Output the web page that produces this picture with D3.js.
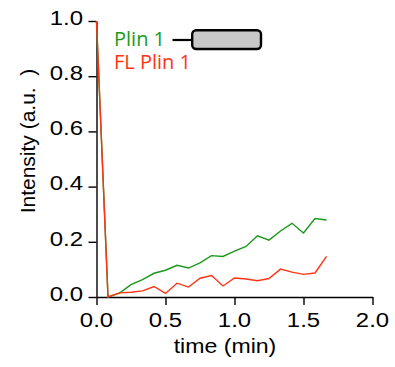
<!DOCTYPE html>
<html><head><meta charset="utf-8">
<script src="https://cdn.jsdelivr.net/npm/d3@7"></script>
<style>body{margin:0;background:#fff}svg{display:block}</style>
</head><body>
<svg id="c" width="395" height="367"></svg>
<script>
const times = [0, 1/12, 2/12, 3/12, 4/12, 5/12, 6/12, 7/12, 8/12, 9/12, 10/12, 11/12, 12/12, 13/12, 14/12, 15/12, 16/12, 17/12, 18/12, 19/12, 20/12];
const plin1 = [1.0, 0.0, 0.014, 0.045, 0.063, 0.086, 0.097, 0.115, 0.105, 0.124, 0.150, 0.147, 0.166, 0.183, 0.222, 0.206, 0.239, 0.267, 0.232, 0.284, 0.279];
const flPlin1 = [1.0, 0.0, 0.015, 0.017, 0.022, 0.038, 0.013, 0.050, 0.036, 0.068, 0.078, 0.040, 0.069, 0.065, 0.059, 0.067, 0.101, 0.090, 0.082, 0.087, 0.147];
const xTicks = [0, 0.5, 1.0, 1.5, 2.0];
const yTicks = [0, 0.2, 0.4, 0.6, 0.8, 1.0];
const seriesNames = ["Plin 1", "FL Plin 1"];
const colors = ["#1a9a1a", "#ff3415"];

const svg = d3.select("#c");
const x = d3.scaleLinear().domain([0, 2]).range([96.5, 372.5]);
const y = d3.scaleLinear().domain([0, 1]).range([297, 21]);
const SX = 1.14;
const font = "'Liberation Sans', Arial, Helvetica, sans-serif";

// axes
const gx = svg.append("g").attr("transform", "translate(0,297)")
  .call(d3.axisBottom(x).tickValues(xTicks).tickFormat(d3.format(".1f")).tickSize(8).tickSizeOuter(0));
const gy = svg.append("g").attr("transform", "translate(96.5,0)")
  .call(d3.axisLeft(y).tickValues(yTicks).tickFormat(d3.format(".1f")).tickSize(8).tickSizeOuter(0));
[gx, gy].forEach(g => {
  g.selectAll("path.domain").attr("stroke", "#000").attr("stroke-width", 1.4);
  g.selectAll(".tick line").attr("stroke", "#000").attr("stroke-width", 1.4);
  g.selectAll(".tick text").attr("fill", "#000").style("font-family", font).style("font-size", "21px");
});
gx.selectAll(".tick text").attr("y", 0).attr("dy", 0)
  .attr("transform", `translate(-0.5,29.5) scale(${SX},1)`).attr("x", 0);
gy.selectAll(".tick text").attr("x", 0).attr("y", 0).attr("dy", 0)
  .attr("transform", `translate(-13.5,3.2) scale(${SX},1)`);

// lines
const line = d3.line().x((d, i) => x(times[i])).y(d => y(d));
[plin1, flPlin1].forEach((s, k) => {
  svg.append("path").datum(s).attr("d", line)
    .attr("fill", "none").attr("stroke", colors[k]).attr("stroke-width", 1.4)
    .attr("stroke-linejoin", "miter");
});

// axis titles
svg.append("text").attr("transform", `translate(225,353) scale(1.1,1)`)
  .attr("text-anchor", "middle").style("font-family", font).style("font-size", "21px")
  .text("time (min)");
svg.append("text").attr("transform", "translate(35,141) rotate(-90)")
  .attr("text-anchor", "middle").style("font-family", font).style("font-size", "21px")
  .style("white-space", "pre").text("Intensity (a.u.  )");

// legend
const lf = "'Open Sans', 'Noto Sans', sans-serif";
svg.append("text").attr("x", 114).attr("y", 46).attr("fill", colors[0])
  .style("font-family", lf).style("font-size", "20px").text(seriesNames[0]);
svg.append("text").attr("x", 114).attr("y", 68.5).attr("fill", colors[1])
  .style("font-family", lf).style("font-size", "20px").text(seriesNames[1]);
svg.append("line").attr("x1", 172.5).attr("x2", 192).attr("y1", 40).attr("y2", 40)
  .attr("stroke", "#000").attr("stroke-width", 2.2);
svg.append("rect").attr("x", 192.2).attr("y", 30.2).attr("width", 68.8).attr("height", 18.8)
  .attr("rx", 4).attr("fill", "#c8c8c8").attr("stroke", "#000").attr("stroke-width", 2.4);
</script>
</body></html>
